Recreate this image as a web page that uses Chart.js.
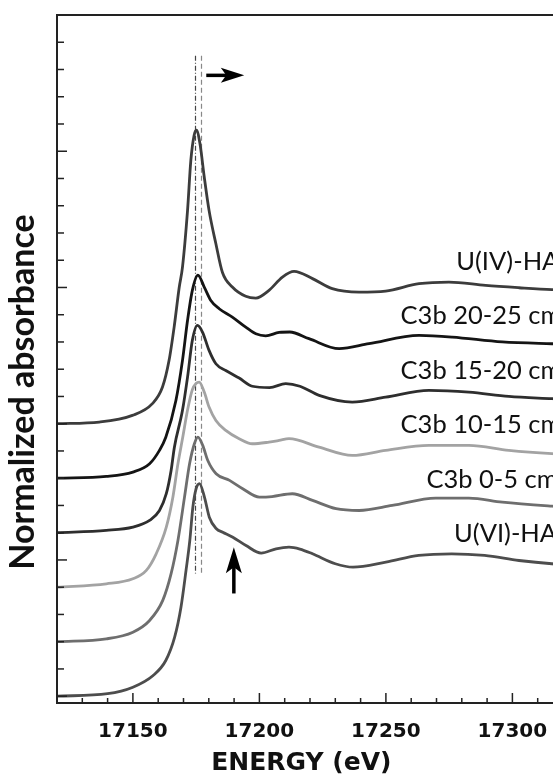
<!DOCTYPE html>
<html>
<head>
<meta charset="utf-8">
<script src="https://cdn.jsdelivr.net/npm/chart.js@4.4.0/dist/chart.umd.min.js"></script>
<style>
  html, body { margin: 0; padding: 0; background: #fff; overflow: hidden; }
  #wrap { width: 600px; height: 782px; }
</style>
</head>
<body>
<div id="wrap"><canvas id="xanes" width="600" height="782"></canvas></div>
<script>
  // spectra (normalized, before stacking)
  const seriesNames = ['U(IV)-HA', 'C3b 20-25 cm', 'C3b 15-20 cm', 'C3b 10-15 cm', 'C3b 0-5 cm', 'U(VI)-HA'];
  const seriesOffsets = [2.0, 1.6, 1.2, 0.8, 0.4, 0];

  const uivEnergy = [17120, 17136.7, 17149.8, 17157.7, 17161.7, 17164.3, 17166.3, 17168.3, 17169.6, 17171.6, 17172.9, 17174.2, 17175.1, 17176.5, 17178.2, 17180.1, 17182.8, 17185.4, 17189.3, 17194.6, 17198.6, 17203.8, 17209.1, 17213.7, 17221, 17228.8, 17239.4, 17249.9, 17263.1, 17274.9, 17289.4, 17302.6, 17315.6, 17320];
  const uivAbs = [0, 0.012, 0.061, 0.147, 0.269, 0.465, 0.709, 1.0, 1.15, 1.566, 1.933, 2.117, 2.154, 2.056, 1.811, 1.566, 1.321, 1.11, 1.003, 0.935, 0.922, 0.979, 1.076, 1.118, 1.065, 0.991, 0.966, 0.974, 1.028, 1.04, 1.015, 0.998, 0.984, 0.982];

  const c2025Energy = [17120, 17139.5, 17150, 17156.6, 17160.5, 17163, 17167, 17169.6, 17171.6, 17173.5, 17175.7, 17178.2, 17180.8, 17184.1, 17189.3, 17194.6, 17198.6, 17202.5, 17207.8, 17212, 17219.6, 17231.5, 17243.3, 17263.1, 17276.2, 17296, 17315.6, 17320];
  const c2025Abs = [0, 0.013, 0.045, 0.106, 0.204, 0.3, 0.571, 0.865, 1.159, 1.379, 1.49, 1.403, 1.305, 1.244, 1.183, 1.109, 1.06, 1.045, 1.07, 1.073, 1.024, 0.951, 0.987, 1.048, 1.036, 1.0, 0.987, 0.985];

  const c1520Energy = [17120, 17139.5, 17150, 17156.6, 17160.5, 17163.2, 17165.1, 17166.4, 17169.6, 17171.6, 17173.5, 17175.5, 17177.5, 17180.1, 17182.8, 17186.7, 17192, 17197.2, 17204, 17210.4, 17216, 17223.6, 17236.7, 17249.9, 17267, 17282.8, 17298.6, 17315.6, 17320];
  const c1520Abs = [0, 0.017, 0.041, 0.09, 0.163, 0.286, 0.457, 0.628, 0.898, 1.142, 1.412, 1.522, 1.473, 1.338, 1.24, 1.191, 1.135, 1.075, 1.065, 1.094, 1.075, 1.008, 0.959, 0.995, 1.045, 1.032, 1.0, 0.984, 0.98];

  const c1015Energy = [17120, 17139.5, 17150, 17155.3, 17159.2, 17163.2, 17165.8, 17167.8, 17169.7, 17171.6, 17173.5, 17174.9, 17176.2, 17178.2, 17180.1, 17182.8, 17186.7, 17192, 17197.2, 17203.8, 17207.8, 17211.7, 17223.6, 17236.7, 17249.9, 17267, 17282.8, 17298.6, 17315.6, 17320];
  const c1015Abs = [0, 0.025, 0.062, 0.123, 0.245, 0.441, 0.661, 0.906, 1.1, 1.3, 1.45, 1.494, 1.505, 1.432, 1.322, 1.224, 1.151, 1.09, 1.053, 1.065, 1.077, 1.09, 1.028, 0.967, 1.004, 1.041, 1.041, 1.004, 0.98, 0.977];

  const c005Energy = [17120, 17139.5, 17150, 17156.6, 17161.8, 17165.1, 17167.8, 17170.4, 17172.4, 17174.3, 17175.7, 17177.6, 17179.6, 17182.9, 17188.2, 17193.4, 17200, 17205, 17213, 17221, 17230.3, 17239.4, 17252.5, 17269.7, 17282.8, 17296, 17315.6, 17320];
  const c005Abs = [0, 0.021, 0.07, 0.156, 0.303, 0.499, 0.743, 1.061, 1.306, 1.453, 1.502, 1.441, 1.33, 1.233, 1.184, 1.123, 1.061, 1.065, 1.086, 1.037, 0.976, 0.963, 1.0, 1.054, 1.054, 1.024, 0.995, 0.99];

  const uviEnergy = [17120, 17140, 17150, 17158, 17163, 17166.5, 17169, 17171, 17172.5, 17173.7, 17175, 17176.3, 17178.3, 17180.2, 17183, 17185.5, 17189.5, 17194.7, 17200.7, 17206.6, 17211.7, 17216, 17221, 17230, 17237, 17250, 17263, 17276, 17289, 17302.6, 17315.6, 17320];
  const uviAbs = [0, 0.018, 0.066, 0.152, 0.262, 0.433, 0.653, 0.923, 1.143, 1.388, 1.523, 1.56, 1.46, 1.314, 1.229, 1.204, 1.167, 1.106, 1.05, 1.082, 1.094, 1.08, 1.045, 0.972, 0.947, 0.984, 1.033, 1.045, 1.033, 0.996, 0.972, 0.968];

  const seriesEnergy = [uivEnergy, c2025Energy, c1520Energy, c1015Energy, c005Energy, uviEnergy];
  const seriesAbs = [uivAbs, c2025Abs, c1520Abs, c1015Abs, c005Abs, uviAbs];

  // axis ticks (inside marks, labels only every 50 eV)
  const energyTicks = [17120, 17130, 17140, 17150, 17160, 17170, 17180, 17190, 17200, 17210, 17220, 17230, 17240, 17250, 17260, 17270, 17280, 17290, 17300, 17310, 17320];
  const absTicks = [0, 0.2, 0.4, 0.6, 0.8, 1, 1.2, 1.4, 1.6, 1.8, 2, 2.2, 2.4, 2.6, 2.8, 3, 3.2, 3.4, 3.6, 3.8, 4, 4.2, 4.4, 4.6, 4.8, 5];

  // edge-position guide lines and the two arrows
  const guideEnergy = [17174.4, 17177.1];
  const guideRange = [0.9, 4.7];
  const shiftArrow = { from: [17179, 4.557], to: [17194, 4.557] };
  const shoulderArrow = { from: [17189.9, 0.754], to: [17189.9, 1.094] };

  // styles
  const lineColors = ['#3c3c3c', '#141414', '#2e2e2e', '#a3a3a3', '#6e6e6e', '#4d4d4d'];
  const labelStart = [17277.8, 17255.8, 17255.8, 17255.8, 17266, 17276.9];
  const labelLift = 1.19;
  const ink = '#111';

  const datasets = seriesNames.map((name, i) => ({
    label: name,
    data: seriesEnergy[i].map((e, j) => ({ x: e, y: seriesAbs[i][j] + seriesOffsets[i] })),
    borderColor: lineColors[i],
    borderWidth: 2.8,
    pointRadius: 0,
    fill: false,
    cubicInterpolationMode: 'monotone',
  }));

  const arrow = (ctx, x0, y0, x1, y1, headLen, headHalf) => {
    const ang = Math.atan2(y1 - y0, x1 - x0);
    const bx = x1 - headLen * Math.cos(ang), by = y1 - headLen * Math.sin(ang);
    ctx.beginPath();
    ctx.moveTo(x0, y0);
    ctx.lineTo(bx + 2 * Math.cos(ang), by + 2 * Math.sin(ang));
    ctx.lineWidth = 3.5;
    ctx.stroke();
    const nx = -Math.sin(ang), ny = Math.cos(ang);
    const nb = headLen * 0.3;
    ctx.beginPath();
    ctx.moveTo(x1, y1);
    ctx.lineTo(bx - nb * Math.cos(ang) + headHalf * nx, by - nb * Math.sin(ang) + headHalf * ny);
    ctx.lineTo(bx, by);
    ctx.lineTo(bx - nb * Math.cos(ang) - headHalf * nx, by - nb * Math.sin(ang) - headHalf * ny);
    ctx.closePath();
    ctx.fill();
  };

  const decor = {
    id: 'decor',
    beforeDatasetsDraw(chart) {
      const { ctx, scales: { x, y } } = chart;
      ctx.save();
      ctx.lineWidth = 1.2;
      guideEnergy.forEach((e, i) => {
        ctx.setLineDash(i === 0 ? [5, 2, 1, 2] : [5, 3]);
        ctx.strokeStyle = i === 0 ? '#444' : '#888';
        const px = Math.round(x.getPixelForValue(e)) + 0.5;
        ctx.beginPath();
        ctx.moveTo(px, y.getPixelForValue(guideRange[1]));
        ctx.lineTo(px, y.getPixelForValue(guideRange[0]));
        ctx.stroke();
      });
      ctx.restore();
    },
    afterDatasetsDraw(chart) {
      const { ctx, chartArea: a, scales: { x, y } } = chart;
      ctx.save();
      ctx.strokeStyle = '#222';
      ctx.lineWidth = 1.5;
      x.ticks.forEach(t => {
        const px = x.getPixelForValue(t.value);
        const len = t.value % 50 === 0 ? 10 : 5;
        ctx.beginPath(); ctx.moveTo(px, a.bottom); ctx.lineTo(px, a.bottom - len); ctx.stroke();
      });
      y.ticks.forEach(t => {
        const py = y.getPixelForValue(t.value);
        const len = Math.abs(t.value - Math.round(t.value)) < 1e-6 ? 10 : 7;
        ctx.beginPath(); ctx.moveTo(a.left, py); ctx.lineTo(a.left + len, py); ctx.stroke();
      });
      ctx.lineWidth = 2;
      ctx.strokeRect(a.left, a.top, a.right - a.left, a.bottom - a.top);

      ctx.fillStyle = ink;
      ctx.font = '25.5px Lato';
      ctx.textBaseline = 'middle';
      ctx.textAlign = 'left';
      seriesNames.forEach((name, i) => {
        ctx.fillText(name, x.getPixelForValue(labelStart[i]), y.getPixelForValue(seriesOffsets[i] + labelLift));
      });

      ctx.fillStyle = '#000';
      ctx.strokeStyle = '#000';
      arrow(ctx, x.getPixelForValue(shiftArrow.from[0]), y.getPixelForValue(shiftArrow.from[1]),
        x.getPixelForValue(shiftArrow.to[0]), y.getPixelForValue(shiftArrow.to[1]), 18, 7.5);
      arrow(ctx, x.getPixelForValue(shoulderArrow.from[0]), y.getPixelForValue(shoulderArrow.from[1]),
        x.getPixelForValue(shoulderArrow.to[0]), y.getPixelForValue(shoulderArrow.to[1]), 20, 8);
      ctx.restore();
    }
  };

  new Chart(document.getElementById('xanes').getContext('2d'), {
    type: 'line',
    data: { datasets },
    plugins: [decor],
    options: {
      responsive: false,
      animation: false,
      devicePixelRatio: 1,
      layout: { padding: { top: 15, right: 37, bottom: 0, left: 0 } },
      plugins: { legend: { display: false }, tooltip: { enabled: false } },
      scales: {
        x: {
          type: 'linear',
          min: 17120,
          max: 17320,
          grid: { display: false, drawTicks: false },
          border: { display: false },
          afterBuildTicks: s => { s.ticks = energyTicks.map(v => ({ value: v })); },
          afterFit: s => { s.height = 79; },
          ticks: {
            autoSkip: false,
            maxRotation: 0,
            padding: 17,
            color: ink,
            font: { family: 'DejaVu Sans', weight: 'bold', size: 20 },
            callback: v => (v % 50 === 0 ? String(v) : ''),
          },
          title: {
            display: true,
            text: 'ENERGY (eV)  ',
            color: ink,
            font: { family: 'DejaVu Sans', weight: 'bold', size: 25 },
            padding: { top: 0, bottom: 4 },
          },
        },
        y: {
          type: 'linear',
          min: -0.05,
          max: 5,
          grid: { display: false, drawTicks: false },
          border: { display: false },
          afterBuildTicks: s => { s.ticks = absTicks.map(v => ({ value: v })); },
          afterFit: s => { s.width = 57; },
          ticks: { display: false },
          title: {
            display: true,
            text: 'Normalized absorbance        ',
            color: ink,
            font: { family: 'Lato', weight: 'bold', size: 34 },
            padding: { top: 3, bottom: 0 },
          },
        },
      },
    },
  });
</script>
</body>
</html>
